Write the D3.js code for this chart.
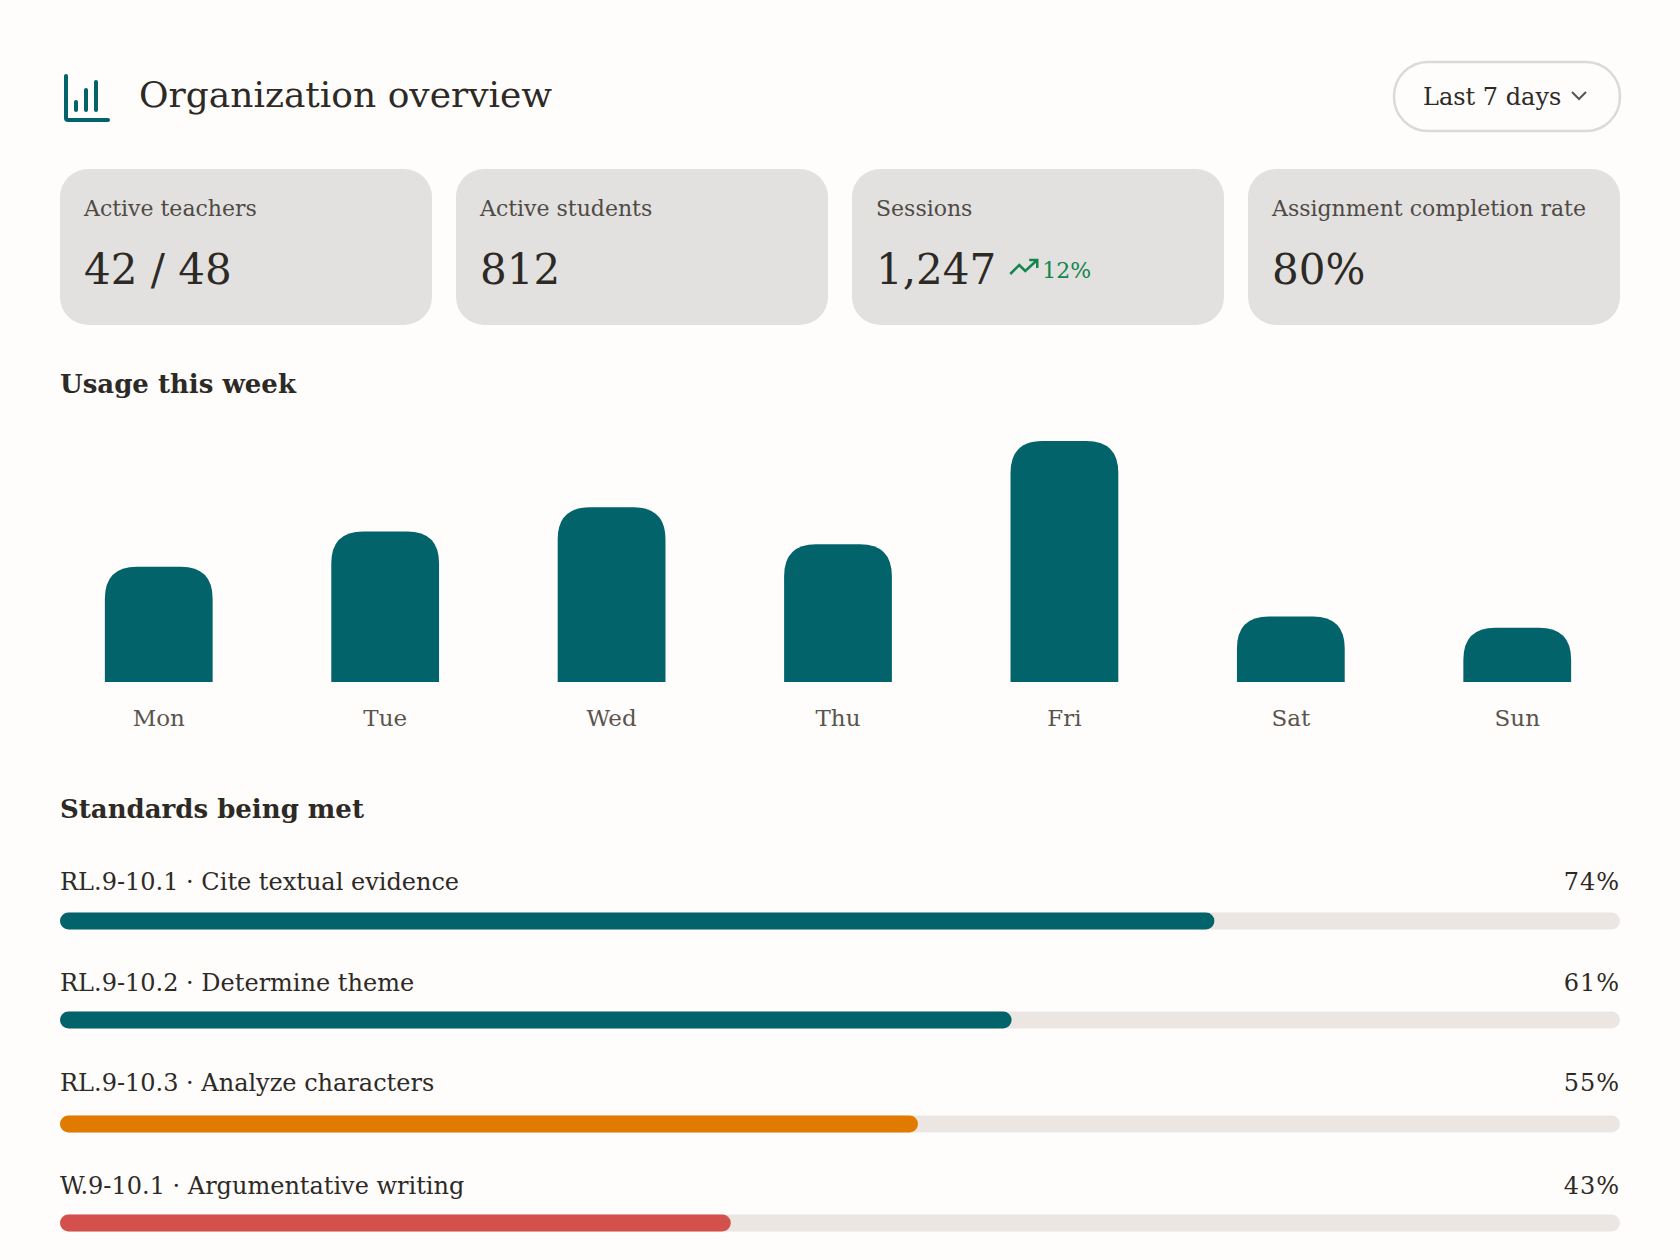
<!DOCTYPE html>
<html><head><meta charset="utf-8">
<script src="https://cdn.jsdelivr.net/npm/d3@7"></script>
<style>
body{margin:0;background:#fffcfc;}
text{font-family:"DejaVu Serif",serif;fill:#2d2a26;}
</style></head><body>
<svg id="chart" width="1680" height="1260"></svg>
<script>
const kpiLabels = ["Active teachers", "Active students", "Sessions", "Assignment completion rate"];
const kpiValues = ["42 / 48", "812", "1,247", "80%"];
const days = ["Mon", "Tue", "Wed", "Thu", "Fri", "Sat", "Sun"];
const sessions = [153, 200, 232, 183, 320, 87, 72];
const standards = ["RL.9-10.1 · Cite textual evidence", "RL.9-10.2 · Determine theme", "RL.9-10.3 · Analyze characters", "W.9-10.1 · Argumentative writing"];
const metPct = [74, 61, 55, 43];
const metColors = ["#02636a", "#02636a", "#e07b00", "#d4504c"];

const svg = d3.select("#chart");
const teal = "#02636a";
const R = 1620;

// header icon
const ic = svg.append("g").attr("transform", "translate(64,76)");
ic.append("path").attr("d", "M2,0 V42 Q2,44 4,44 H44").attr("fill", "none").attr("stroke", teal).attr("stroke-width", 4).attr("stroke-linecap", "round");
[[12, 26, 34], [22, 14, 34], [32, 6, 34]].forEach(([x, y1, y2]) =>
	ic.append("line").attr("x1", x).attr("x2", x).attr("y1", y1).attr("y2", y2).attr("stroke", teal).attr("stroke-width", 4).attr("stroke-linecap", "round"));
svg.append("text").attr("x", 139).attr("y", 107).attr("font-size", 36).text("Organization overview");

// dropdown
svg.append("rect").attr("x", R - 226).attr("y", 62).attr("width", 226).attr("height", 69).attr("rx", 34)
	.attr("fill", "#fffcfc").attr("stroke", "#dcdad8").attr("stroke-width", 2.5);
svg.append("text").attr("x", R - 197).attr("y", 105).attr("font-size", 24).text("Last 7 days");
svg.append("path").attr("d", `M${R - 48},92 l7,7 l7,-7`).attr("fill", "none").attr("stroke", "#555").attr("stroke-width", 2);

// KPI cards
const cardX = d3.scaleBand().domain(d3.range(4)).range([60, R + 24]);
kpiLabels.forEach((l, i) => {
	const x = cardX(i);
	svg.append("rect").attr("x", x).attr("y", 169).attr("width", cardX.bandwidth() - 24).attr("height", 156).attr("rx", 28).attr("fill", "#e2e1df");
	svg.append("text").attr("x", x + 24).attr("y", 216).attr("font-size", 22).style("fill", "#4f4a45").text(l);
	const v = svg.append("text").attr("x", x + 24).attr("y", 284).attr("font-size", 42).text(kpiValues[i]);
	if (i === 2) {
		const w = v.node().getComputedTextLength();
		const g = svg.append("g").attr("transform", `translate(${x + 24 + w + 14},260)`);
		g.append("path").attr("d", "M0,14 l9,-9 l6,6 l12,-11 M19,0 h8 v8").attr("fill", "none").attr("stroke", "#14854b").attr("stroke-width", 2.5);
		svg.append("text").attr("x", x + 24 + w + 46).attr("y", 278).attr("font-size", 22).style("fill", "#14854b").text("12%");
	}
});

// usage this week
svg.append("text").attr("x", 60).attr("y", 393).attr("font-size", 26).attr("font-weight", "bold").text("Usage this week");
const x = d3.scaleBand().domain(days).range([46, 1630]).paddingInner(0.524).paddingOuter(0.26);
const y = d3.scaleLinear().domain([0, 320]).range([682, 441]);
const r = 32;
svg.append("g").selectAll("path").data(days).join("path")
	.attr("fill", teal)
	.attr("d", (d, i) => {
		const x0 = x(d), w = x.bandwidth(), y0 = y(sessions[i]), b = y(0);
		return `M${x0},${b} V${y0 + r} Q${x0},${y0} ${x0 + r},${y0} H${x0 + w - r} Q${x0 + w},${y0} ${x0 + w},${y0 + r} V${b} Z`;
	});
svg.append("g").attr("transform", "translate(0,682)")
	.call(d3.axisBottom(x).tickSize(0).tickPadding(28))
	.call(g => g.select(".domain").remove())
	.call(g => g.selectAll("text").attr("font-size", 23).attr("font-family", null).style("fill", "#5a544e"));

// standards being met
svg.append("text").attr("x", 60).attr("y", 818).attr("font-size", 26).attr("font-weight", "bold").text("Standards being met");
const px = d3.scaleLinear().domain([0, 100]).range([60, R]);
const rowY = [890, 991, 1091, 1194];
const barY = [921, 1020, 1124, 1223];
standards.forEach((s, i) => {
	svg.append("text").attr("x", 60).attr("y", rowY[i]).attr("font-size", 24).text(s);
	svg.append("text").attr("x", R).attr("y", rowY[i]).attr("text-anchor", "end").attr("font-size", 24).attr("letter-spacing", 1).text(metPct[i] + "%");
	svg.append("rect").attr("x", px(0)).attr("y", barY[i] - 8.5).attr("width", px(100) - px(0)).attr("height", 17).attr("rx", 8.5).attr("fill", "#ebe6e2");
	svg.append("rect").attr("x", px(0)).attr("y", barY[i] - 8.5).attr("width", px(metPct[i]) - px(0)).attr("height", 17).attr("rx", 8.5).attr("fill", metColors[i]);
});
</script></body></html>
